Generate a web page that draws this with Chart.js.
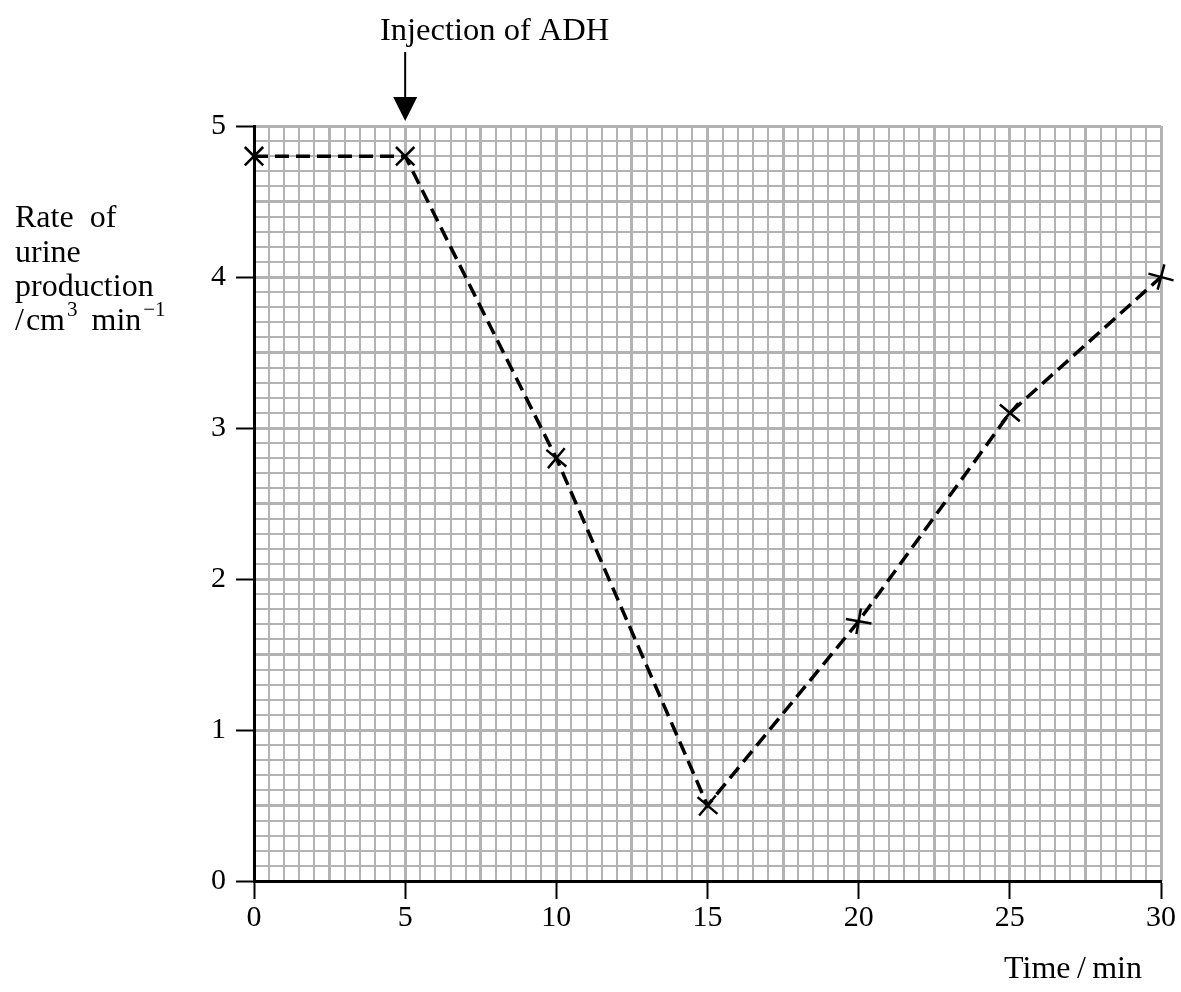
<!DOCTYPE html>
<html>
<head>
<meta charset="utf-8">
<script src="https://cdn.jsdelivr.net/npm/chart.js@4.4.1/dist/chart.umd.min.js"></script>
<style>
  html, body { margin: 0; padding: 0; background: #fff; }
  #wrap { width: 1181px; height: 992px; }
</style>
</head>
<body>
<div id="wrap"><canvas id="myChart"></canvas></div>
<script>
// data
const times = [0, 5, 10, 15, 20, 25, 30];
const rates = [4.8, 4.8, 2.8, 0.5, 1.72, 3.1, 4.0];
const crossAngles = [45, 45, 40, 40, 10, 40, 15];
const injectionTime = 5;
const xTicks = [0, 5, 10, 15, 20, 25, 30];
const yTicks = [0, 1, 2, 3, 4, 5];

const serif = '"Liberation Serif", "DejaVu Serif", serif';
const gridGrey = '#b3b3b3';

const extras = {
    id: 'extras',
    afterDraw(chart) {
        const c = chart.ctx;
        const xs = chart.scales.x;
        c.save();
        c.fillStyle = '#000';
        c.strokeStyle = '#000';

        // injection arrow
        const ax = xs.getPixelForValue(injectionTime);
        c.font = '32.5px ' + serif;
        c.textAlign = 'left';
        c.textBaseline = 'alphabetic';
        c.fillText('Injection of ADH', 380, 40);
        c.lineWidth = 2;
        c.beginPath();
        c.moveTo(ax, 52);
        c.lineTo(ax, 100);
        c.stroke();
        c.beginPath();
        c.moveTo(ax - 12, 97);
        c.lineTo(ax + 12, 97);
        c.lineTo(ax, 121);
        c.closePath();
        c.fill();

        // y axis label
        c.font = '32px ' + serif;
        c.fillText('Rate  of', 15, 227);
        c.fillText('urine', 15, 262);
        c.fillText('production', 15, 296);
        let x = 15;
        c.fillText('/', x, 330); x += c.measureText('/').width + 2;
        c.fillText('cm', x, 330); x += c.measureText('cm').width;
        c.font = '21px ' + serif;
        c.fillText('3', x + 2, 316); x += c.measureText('3').width + 16;
        c.font = '32px ' + serif;
        c.fillText('min', x, 330); x += c.measureText('min').width;
        c.font = '21px ' + serif;
        c.fillText('\u22121', x + 2, 316);

        // x axis label
        c.font = '32px ' + serif;
        c.textAlign = 'right';
        c.fillText('Time\u2009/\u2009min', 1142, 978);
        c.restore();
    }
};

new Chart(document.getElementById('myChart'), {
    type: 'scatter',
    data: {
        datasets: [{
            data: times.map((t, i) => ({ x: t, y: rates[i] })),
            showLine: true,
            borderColor: '#000',
            borderWidth: 3.5,
            borderDash: [14, 7],
            pointStyle: 'cross',
            pointRotation: crossAngles,
            pointRadius: 13,
            pointBorderWidth: 2.5,
            pointBorderColor: '#000',
            pointBackgroundColor: '#000',
            clip: false
        }]
    },
    options: {
        responsive: true,
        maintainAspectRatio: false,
        animation: false,
        layout: { padding: { top: 126, right: 20, left: 0, bottom: 0 } },
        plugins: { legend: { display: false }, tooltip: { enabled: false } },
        scales: {
            xg: {
                type: 'linear', position: 'bottom', min: 0, max: 30,
                ticks: { display: false, stepSize: 0.5 },
                border: { display: false },
                grid: {
                    drawTicks: false,
                    color: gridGrey,
                    lineWidth: ctx => (Math.round(ctx.tick.value * 2) % 5 === 0 ? 3 : 2)
                },
                afterFit: s => { s.height = 0; }
            },
            yg: {
                type: 'linear', position: 'left', min: 0, max: 5,
                ticks: { display: false, stepSize: 0.1 },
                border: { display: false },
                grid: {
                    drawTicks: false,
                    color: gridGrey,
                    lineWidth: ctx => (Math.round(ctx.tick.value * 10) % 5 === 0 ? 3 : 2)
                },
                afterFit: s => { s.width = 0; }
            },
            x: {
                type: 'linear', position: 'bottom', min: 0, max: 30,
                afterBuildTicks: s => { s.ticks = xTicks.map(v => ({ value: v })); },
                ticks: { color: '#000', font: { family: serif, size: 30 }, padding: 1 },
                border: { display: true, color: '#000', width: 3 },
                grid: { drawOnChartArea: false, drawTicks: true, tickLength: 18, tickColor: '#000', tickWidth: 2 },
                afterFit: s => { s.height = 111; }
            },
            y: {
                type: 'linear', position: 'left', min: 0, max: 5,
                afterBuildTicks: s => { s.ticks = yTicks.map(v => ({ value: v })); },
                ticks: { color: '#000', font: { family: serif, size: 30 }, padding: 10 },
                border: { display: true, color: '#000', width: 3 },
                grid: { drawOnChartArea: false, drawTicks: true, tickLength: 18, tickColor: '#000', tickWidth: 2 },
                afterFit: s => { s.width = 254; }
            }
        }
    },
    plugins: [extras]
});
</script>
</body>
</html>
